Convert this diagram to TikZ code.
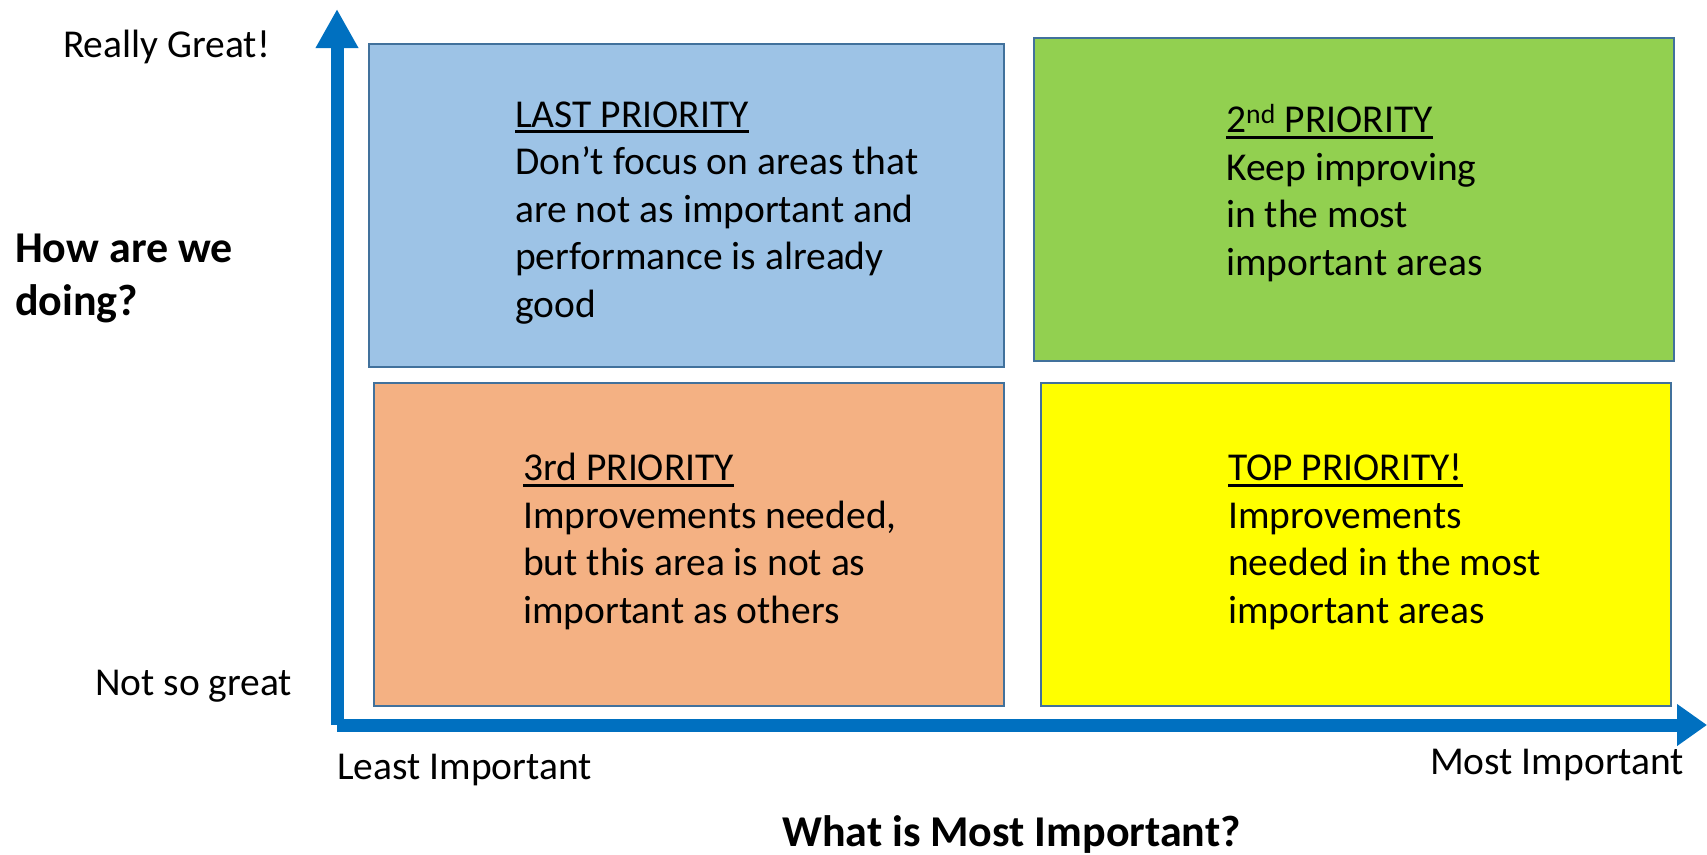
\documentclass[tikz,border=0pt]{standalone}
\usepackage{fontspec}
\setmainfont{Carlito}
\usetikzlibrary{arrows.meta,positioning}
\definecolor{axisblue}{HTML}{0070C0}
\definecolor{boxline}{HTML}{41719C}
\definecolor{lastblue}{HTML}{9DC3E6}
\definecolor{secondgreen}{HTML}{92D050}
\definecolor{thirdorange}{HTML}{F4B183}
\definecolor{topyellow}{HTML}{FFFF00}
\newcommand{\prioline}[1]{\setbox0\hbox{#1}\rlap{\rule[-6pt]{\wd0}{3pt}}\box0}

\begin{document}
\begin{tikzpicture}[x=1pt,y=-1pt,
  quad box/.style={draw=boxline,line width=2pt,anchor=north west,inner sep=0pt},
  box text/.style={anchor=base west,align=left,inner sep=0pt,font=\fontsize{39.5}{47.5}\selectfont},
  axis label/.style={anchor=base west,inner sep=0pt,font=\fontsize{39.5}{47.5}\selectfont},
  axis title/.style={anchor=base west,align=left,inner sep=0pt,font=\fontsize{44}{53}\selectfont\bfseries},
  axis arrow/.style={axisblue,line width=13pt}]

  \useasboundingbox (0,0) rectangle (1707,854);

  % axes
  \coordinate (origin) at (337,725);
  \coordinate (ytip) at (337,9);
  \coordinate (xtip) at (1707,725);
  \draw[axis arrow,-{Triangle[width=40pt,length=39pt]}] (origin) -- (ytip);
  \draw[axis arrow,-{Triangle[width=40pt,length=30pt]}] (origin) -- (xtip);

  % quadrants
  \node[quad box,fill=lastblue,minimum width=635pt,minimum height=323pt] (last) at (368,43) {};
  \node[quad box,fill=secondgreen,minimum width=640pt,minimum height=323pt] (second) at (1033,37) {};
  \node[quad box,fill=thirdorange,minimum width=630pt,minimum height=323pt] (third) at (373,382) {};
  \node[quad box,fill=topyellow,minimum width=630pt,minimum height=323pt] (top) at (1040,382) {};

  % texts sit on the baseline of their last line
  \node[box text] (last txt) at (515,317) {\prioline{LAST PRIORITY}\\Don’t focus on areas that\\are not as important and\\performance is already\\good};
  \node[box text] (second txt) at (1226,275) {\prioline{2\textsuperscript{nd} PRIORITY}\\Keep improving\\in the most\\important areas};
  \node[box text] (third txt) at (523,623) {\prioline{3rd PRIORITY}\\Improvements needed,\\but this area is not as\\important as others};
  \node[box text] (top txt) at (1228,623) {\prioline{TOP PRIORITY!}\\Improvements\\needed in the most\\important areas};

  % axis labels
  \node[axis label] (great) at (63,57) {Really Great!};
  \node[axis label] (notgreat) at (95,695) {Not so great};
  \node[axis label] (least) at (337,779) {Least Important};
  \node[axis label] (most) at (1430,774) {Most Important};
  \node[axis title] (ytitle) at (15,315) {How are we\\doing?};
  \node[axis title] (xtitle) at (782,846) {What is Most Important?};
\end{tikzpicture}
\end{document}
